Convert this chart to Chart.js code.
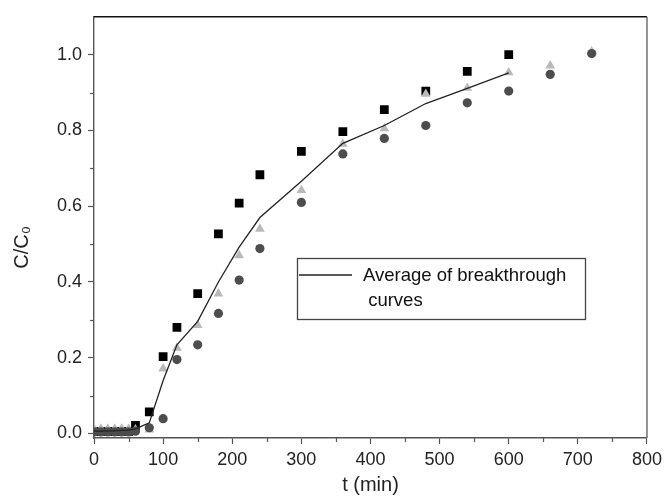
<!DOCTYPE html>
<html><head><meta charset="utf-8">
<script src="https://cdn.jsdelivr.net/npm/chart.js@4/dist/chart.umd.min.js"></script>
<style>html,body{margin:0;padding:0;background:#fff}#wrap{width:667px;height:497px}</style>
</head><body><div id="wrap"><canvas id="c" width="667" height="497"></canvas></div>
<script>
// ---- data ----
const timesShort = [0,10,20,30,40,50,60,80,100,120,150,180,210,240,300,360,420,480,540,600];
const timesLong  = [0,10,20,30,40,50,60,80,100,120,150,180,210,240,300,360,420,480,540,600,660,720];
const squares   = [0.005,0.005,0.005,0.005,0.005,0.005,0.021,0.057,0.203,0.280,0.369,0.527,0.608,0.683,0.745,0.797,0.855,0.904,0.956,1.000];
const triangles = [0.012,0.012,0.012,0.012,0.012,0.012,0.010,0.010,0.171,0.226,0.286,0.369,0.470,0.540,0.642,0.764,0.805,0.896,0.912,0.953,0.971,1.008];
const circles   = [0.004,0.004,0.004,0.004,0.004,0.004,0.006,0.015,0.039,0.195,0.234,0.317,0.405,0.488,0.610,0.738,0.779,0.813,0.873,0.904,0.948,1.003];
const average   = [0.006,0.006,0.007,0.007,0.008,0.009,0.012,0.028,0.140,0.234,0.296,0.400,0.492,0.570,0.666,0.766,0.813,0.871,0.911,0.952];
const xTickValues = [0,50,100,150,200,250,300,350,400,450,500,550,600,650,700,750,800];
const xTickLabels = ['0','','100','','200','','300','','400','','500','','600','','700','','800'];
const yTickValues = [0,0.1,0.2,0.3,0.4,0.5,0.6,0.7,0.8,0.9,1.0];
const yTickLabels = ['0.0','','0.2','','0.4','','0.6','','0.8','','1.0'];
const lineLabel = 'Average of breakthrough curves';
const legendLines = ['Average of breakthrough', ' curves'];

const pts = (xs, ys) => ys.map((y, i) => ({x: xs[i], y: y}));
const FONT = 'Liberation Sans, Arial, sans-serif';

const minorTicks = {
  id: 'minorTicks',
  afterDraw(chart) {
    const ctx = chart.ctx, a = chart.chartArea;
    const xs = chart.scales.x, ys = chart.scales.y;
    ctx.save();
    ctx.strokeStyle = '#555'; ctx.lineWidth = 1.2;
    xTickValues.forEach((v, i) => {
      if (xTickLabels[i] !== '') return;
      const px = Math.round(xs.getPixelForValue(v)) + 0.5;
      ctx.beginPath(); ctx.moveTo(px, a.bottom); ctx.lineTo(px, a.bottom + 4); ctx.stroke();
    });
    yTickValues.forEach((v, i) => {
      if (yTickLabels[i] !== '') return;
      const py = Math.round(ys.getPixelForValue(v)) + 0.5;
      ctx.beginPath(); ctx.moveTo(a.left, py); ctx.lineTo(a.left - 4, py); ctx.stroke();
    });
    // frame: top and right
    ctx.strokeStyle = '#111'; ctx.lineWidth = 1.6;
    ctx.beginPath(); ctx.moveTo(a.left, a.top); ctx.lineTo(a.right, a.top); ctx.stroke();
    ctx.strokeStyle = '#666'; ctx.lineWidth = 1.4;
    ctx.beginPath(); ctx.moveTo(a.right, a.top); ctx.lineTo(a.right, a.bottom); ctx.stroke();
    ctx.restore();
  }
};

const boxLegend = {
  id: 'boxLegend',
  afterDraw(chart) {
    const ctx = chart.ctx;
    const ds = chart.data.datasets.find(d => d.label === lineLabel);
    ctx.save();
    ctx.fillStyle = '#fff';
    ctx.fillRect(297, 258, 288, 61);
    ctx.strokeStyle = '#444'; ctx.lineWidth = 1.3;
    ctx.strokeRect(297.5, 258.5, 288, 61);
    ctx.strokeStyle = ds.borderColor; ctx.lineWidth = ds.borderWidth;
    ctx.beginPath(); ctx.moveTo(299, 275); ctx.lineTo(352, 275); ctx.stroke();
    ctx.fillStyle = '#111';
    ctx.font = '18.5px ' + FONT;
    ctx.textBaseline = 'middle';
    ctx.fillText(legendLines[0], 363, 276);
    ctx.fillText(legendLines[1], 363, 301);
    ctx.restore();
  }
};

new Chart(document.getElementById('c'), {
  type: 'scatter',
  data: {
    datasets: [
      { label: lineLabel, type: 'line', data: pts(timesShort, average), showLine: true,
        borderColor: '#222', borderWidth: 1.3, pointRadius: 0, fill: false, tension: 0, order: 0 },
      { label: 'circles', data: pts(timesLong, circles), pointStyle: 'circle', pointRadius: 4.6,
        backgroundColor: '#4d4d4d', borderColor: '#4d4d4d', borderWidth: 0, order: 1 },
      { label: 'triangles', data: pts(timesLong, triangles), pointStyle: 'triangle', pointRadius: 5.6,
        backgroundColor: '#b9b9b9', borderColor: '#b9b9b9', borderWidth: 0, order: 2 },
      { label: 'squares', data: pts(timesShort, squares), pointStyle: 'rect', pointRadius: 6.2,
        backgroundColor: '#000', borderColor: '#000', borderWidth: 0, order: 3 }
    ]
  },
  options: {
    responsive: false, animation: false, devicePixelRatio: 1,
    layout: { padding: { top: 14, right: 17, left: 0, bottom: 0 } },
    plugins: { legend: { display: false }, tooltip: { enabled: false } },
    scales: {
      x: {
        type: 'linear', min: 0, max: 800,
        afterBuildTicks: s => { s.ticks = xTickValues.map(v => ({ value: v })); },
        afterFit: s => { s.height = 59; },
        ticks: { callback: (v, i) => xTickLabels[i], font: { family: FONT, size: 18 }, color: '#222', padding: 5, maxRotation: 0, autoSkip: false },
        grid: { drawOnChartArea: false, tickLength: 6, tickWidth: 1.2,
                tickColor: c => (xTickLabels[c.index] === '' ? 'rgba(0,0,0,0)' : '#555') },
        border: { color: '#555', width: 1.4 },
        title: { display: true, text: 't (min)', font: { family: FONT, size: 20 }, color: '#222', padding: { top: 0, bottom: 0 } }
      },
      y: {
        type: 'linear', min: -0.012, max: 1.1,
        afterBuildTicks: s => { s.ticks = yTickValues.map(v => ({ value: v })); },
        afterFit: s => { s.width = 94; },
        ticks: { callback: (v, i) => yTickLabels[i], font: { family: FONT, size: 18 }, color: '#222', padding: 6, autoSkip: false },
        grid: { drawOnChartArea: false, tickLength: 6, tickWidth: 1.2,
                tickColor: c => (yTickLabels[c.index] === '' ? 'rgba(0,0,0,0)' : '#555') },
        border: { color: '#555', width: 1.4 },
        title: { display: true, text: 'C/C\u2080\u2002\u2002\u2002\u2002', font: { family: FONT, size: 20 }, color: '#222', padding: { top: 10, bottom: 0 } }
      }
    }
  },
  plugins: [minorTicks, boxLegend]
});
</script>
</body></html>
